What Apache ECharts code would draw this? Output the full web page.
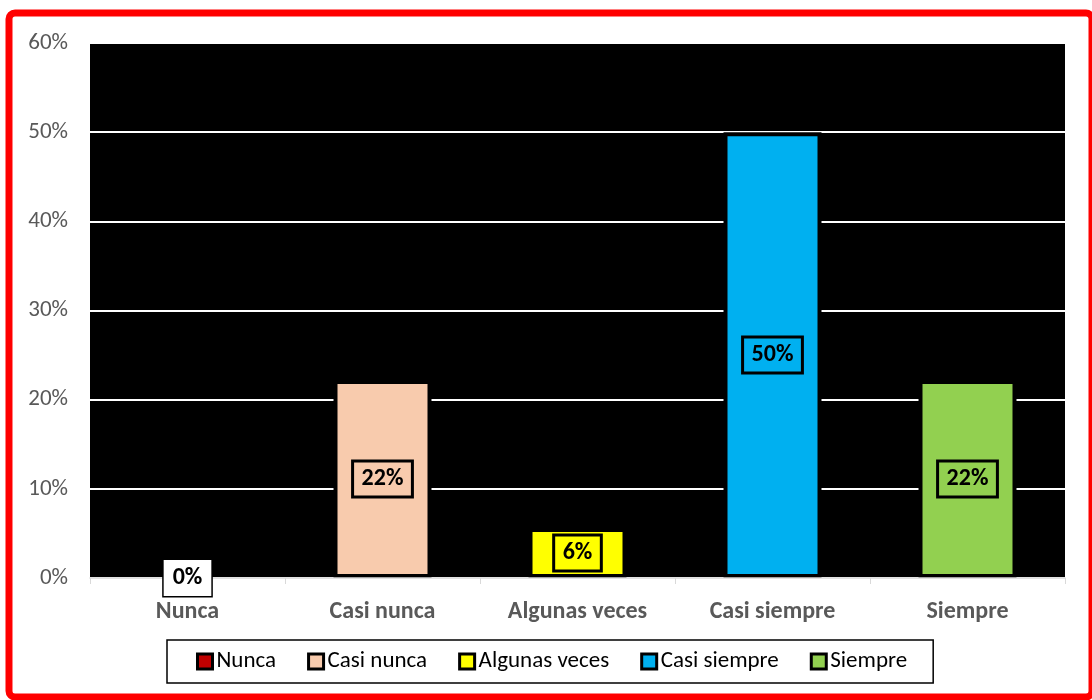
<!DOCTYPE html>
<html><head><meta charset="utf-8">
<script src="https://cdn.jsdelivr.net/npm/echarts@6/dist/echarts.min.js"></script>
<style>html,body{margin:0;padding:0;background:#fff}#c{width:1092px;height:700px}</style>
</head><body><div id="c"></div>
<script>
const categories = ['Nunca', 'Casi nunca', 'Algunas veces', 'Casi siempre', 'Siempre'];
const values = [0, 22.2, 5.6, 50, 22.2];
const labels = ['0%', '22%', '6%', '50%', '22%'];
const colors = ['#C00000', '#F8CBAD', '#FFFF00', '#00B0F0', '#92D050'];
const yTicks = [0, 10, 20, 30, 40, 50, 60];

const FONT = 'Carlito, Lato, "Liberation Sans", sans-serif';
const chart = echarts.init(document.getElementById('c'), null, {renderer: 'canvas'});

const series = categories.map((name, i) => ({
  name: name,
  type: 'bar',
  stack: 'all',
  barWidth: 98,
  z: values[i] === 0 ? 8 : 2,
  data: categories.map((c, j) => j === i ? values[i] : '-'),
  itemStyle: {color: colors[i], borderColor: '#000', borderWidth: values[i] === 0 ? 0 : 4},
  label: {
    show: true,
    position: 'inside',
    formatter: () => labels[i],
    fontFamily: FONT,
    fontWeight: 'bold',
    fontSize: 24,
    color: '#000',
    borderColor: '#000',
    borderWidth: 1.5,
    padding: [7, 9, 5, 9],
    backgroundColor: values[i] === 0 ? '#fff' : 'transparent'
  }
}));

chart.setOption({
  animation: false,
  backgroundColor: '#fff',
  textStyle: {fontFamily: FONT},
  grid: {left: 90, right: 27, top: 43, bottom: 122, show: true, backgroundColor: '#000', borderWidth: 0},
  legend: {
    data: categories,
    left: 167, top: 640,
    padding: [10, 26, 10, 29],
    itemGap: 31,
    itemWidth: 15, itemHeight: 15,
    icon: 'rect',
    itemStyle: {borderColor: '#000', borderWidth: 3},
    borderColor: '#000', borderWidth: 1.5,
    textStyle: {fontFamily: FONT, fontSize: 23, color: '#000', padding: [0, 0, 0, -1]}
  },
  xAxis: {
    type: 'category',
    data: categories,
    z: 5,
    axisLine: {lineStyle: {color: '#d9d9d9', width: 1.5}},
    axisTick: {show: true, length: 6, lineStyle: {color: '#d9d9d9'}},
    axisLabel: {fontFamily: FONT, fontWeight: 'bold', fontSize: 24, color: '#595959', margin: 22}
  },
  yAxis: {
    type: 'value',
    min: yTicks[0], max: yTicks[yTicks.length - 1], interval: 10,
    axisLine: {show: false},
    axisTick: {show: false},
    splitLine: {lineStyle: {color: '#fff', width: 2}},
    axisLabel: {fontFamily: FONT, fontSize: 23, color: '#595959', margin: 22, formatter: v => v + '%'}
  },
  graphic: [{
    type: 'rect',
    z: 100,
    shape: {x: 9, y: 13, width: 1083, height: 684, r: 6},
    style: {fill: 'none', stroke: '#ff0000', lineWidth: 7}
  }],
  series: series
});
</script></body></html>
